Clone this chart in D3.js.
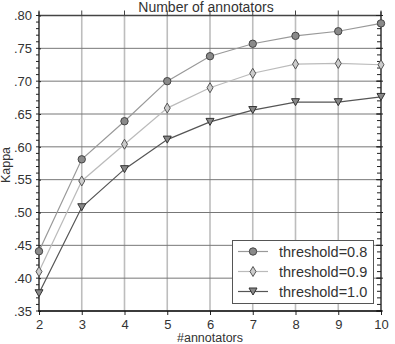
<!DOCTYPE html>
<html><head><meta charset="utf-8">
<script src="https://cdn.jsdelivr.net/npm/d3@7"></script>
<style>body{margin:0;background:#fff}svg{display:block;font-family:"Liberation Sans",Arial,sans-serif}</style>
</head><body><svg id="c" width="395" height="344"></svg>
<script>
const annotators = [2,3,4,5,6,7,8,9,10];
const t08 = [0.441,0.581,0.639,0.700,0.738,0.757,0.769,0.776,0.788];
const t09 = [0.410,0.548,0.604,0.659,0.690,0.712,0.726,0.727,0.725];
const t10 = [0.377,0.508,0.566,0.611,0.638,0.656,0.668,0.668,0.676];
const seriesNames = ["threshold=0.8","threshold=0.9","threshold=1.0"];
const yTicks = [0.35,0.40,0.45,0.50,0.55,0.60,0.65,0.70,0.75,0.80];

const svg = d3.select("#c");
const L=39, R=381, T=15.5, B=311;
const x = d3.scaleLinear().domain([2,10]).range([L,R]);
const y = d3.scaleLinear().domain([0.35,0.80]).range([B,T]);
const fmt = v => d3.format(".2f")(v).replace(/^0/,"");

// vertical grid
svg.append("g").selectAll("line").data(annotators).join("line")
  .attr("x1",d=>x(d)).attr("x2",d=>x(d)).attr("y1",T).attr("y2",B)
  .attr("stroke","#bdbdbd").attr("stroke-width",1.6);
// horizontal grid
svg.append("g").selectAll("line").data(yTicks).join("line")
  .attr("x1",L).attr("x2",R).attr("y1",d=>y(d)).attr("y2",d=>y(d))
  .attr("stroke","#777").attr("stroke-width",1);

// top line & ticks
svg.append("line").attr("x1",L).attr("x2",R).attr("y1",T).attr("y2",T).attr("stroke","#444").attr("stroke-width",1.3);
svg.append("g").selectAll("line").data(annotators).join("line")
  .attr("x1",d=>x(d)).attr("x2",d=>x(d)).attr("y1",T-5).attr("y2",T).attr("stroke","#444");

// minor ticks
const minor = d3.range(35,81).map(v=>v/100);
svg.append("g").selectAll("line").data(minor).join("line")
  .attr("x1",L-3).attr("x2",L).attr("y1",d=>y(d)).attr("y2",d=>y(d)).attr("stroke","#222");
svg.append("g").selectAll("line").data(minor).join("line")
  .attr("x1",R-4).attr("x2",R).attr("y1",d=>y(d)).attr("y2",d=>y(d)).attr("stroke","#222");

// left axis
const ya = d3.axisLeft(y).tickValues(yTicks).tickFormat(fmt).tickSize(5).tickPadding(2);
const gy = svg.append("g").attr("transform",`translate(${L},0)`).call(ya);
gy.select(".domain").remove();
gy.selectAll(".tick line").attr("x2",2).attr("stroke","#222");
gy.selectAll("text").attr("font-size",13).attr("fill","#333");
svg.append("line").attr("x1",L).attr("x2",L).attr("y1",T-4).attr("y2",B).attr("stroke","#222").attr("stroke-width",1.2);
// right axis
svg.append("g").selectAll("line").data(yTicks).join("line")
  .attr("x1",R-5).attr("x2",R+2).attr("y1",d=>y(d)).attr("y2",d=>y(d)).attr("stroke","#222");
svg.append("line").attr("x1",R).attr("x2",R).attr("y1",T-4).attr("y2",B).attr("stroke","#222").attr("stroke-width",1.2);

// bottom axis
const xa = d3.axisBottom(x).tickValues(annotators).tickFormat(d3.format("d")).tickSize(4).tickPadding(5);
const gx = svg.append("g").attr("transform",`translate(0,${B})`).call(xa);
gx.select(".domain").remove();
gx.selectAll(".tick line").attr("stroke","#222");
gx.selectAll("text").attr("font-size",13).attr("fill","#333");
svg.append("line").attr("x1",L-1).attr("x2",R+1).attr("y1",B).attr("y2",B).attr("stroke","#111").attr("stroke-width",1.6);

// labels
svg.append("text").attr("x",206).attr("y",11.5).attr("text-anchor","middle").attr("font-size",14).attr("fill","#333").text("Number of annotators");
svg.append("text").attr("x",210).attr("y",342).attr("text-anchor","middle").attr("font-size",12.5).attr("fill","#333").text("#annotators");
svg.append("text").attr("transform","translate(10,165) rotate(-90)").attr("text-anchor","middle").attr("font-size",12.5).attr("fill","#333").text("Kappa");

const styles = [
  {data:t08, line:"#999", fill:"#8a8a8a", stroke:"#444", sym:"circle"},
  {data:t09, line:"#bbb", fill:"#ccc", stroke:"#555", sym:"diamond"},
  {data:t10, line:"#555", fill:"#888", stroke:"#333", sym:"tri"}
];
function marker(g, s, cx, cy){
  if(s.sym==="diamond"){
    g.append("path").attr("d",`M${cx},${cy-5}L${cx+3},${cy}L${cx},${cy+5}L${cx-3},${cy}Z`)
      .attr("fill",s.fill).attr("stroke",s.stroke).attr("stroke-width",1);
  } else if(s.sym==="tri"){
    g.append("path").attr("d",`M${cx-4},${cy-3.5}L${cx+4},${cy-3.5}L${cx},${cy+3.5}Z`)
      .attr("fill",s.fill).attr("stroke",s.stroke).attr("stroke-width",1);
  } else {
    g.append("circle").attr("cx",cx).attr("cy",cy).attr("r",3.7)
      .attr("fill",s.fill).attr("stroke",s.stroke).attr("stroke-width",1);
  }
}
const line = d3.line().x((d,i)=>x(annotators[i])).y(d=>y(d));
styles.forEach(s=>{
  svg.append("path").attr("d",line(s.data)).attr("fill","none").attr("stroke",s.line).attr("stroke-width",1.2);
  const g = svg.append("g");
  s.data.forEach((v,i)=>marker(g,s,x(annotators[i]),y(v)));
});

// legend
const lg = svg.append("g");
lg.append("rect").attr("x",232.5).attr("y",240.5).attr("width",141).attr("height",63).attr("fill","#fff").attr("stroke","#555").attr("stroke-width",1);
styles.forEach((s,i)=>{
  const cy = 251.5 + i*20;
  lg.append("line").attr("x1",238).attr("x2",268).attr("y1",cy).attr("y2",cy).attr("stroke",s.line).attr("stroke-width",1.2);
  marker(lg,s,253,cy);
  lg.append("text").attr("x",279).attr("y",cy+5).attr("font-size",14.5).attr("fill","#333").text(seriesNames[i]);
});
</script></body></html>
